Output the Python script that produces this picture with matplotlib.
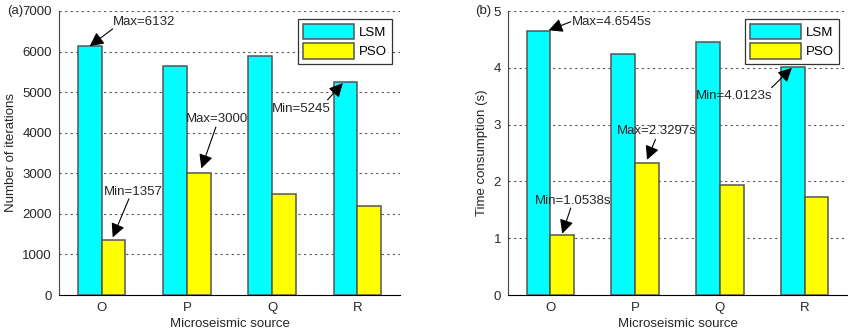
import numpy as np
import matplotlib.pyplot as plt

plt.rcParams['font.family'] = ['Liberation Sans', 'DejaVu Sans']
plt.rcParams['font.size'] = 9

sources = ["O", "P", "Q", "R"]

# (a) iterations
iter_lsm = [6132, 5650, 5900, 5245]
iter_pso = [1357, 3000, 2500, 2200]

# (b) time consumption
time_lsm = [4.6545, 4.25, 4.45, 4.0123]
time_pso = [1.0538, 2.3297, 1.93, 1.72]

# annotations: text, text pos, arrow tail, arrow head
notes_a = [
    ("Max=6132", (1.13, 6730), (1.13, 6560), (0.86, 6132)),
    ("Min=1357", (1.03, 2540), (1.32, 2370), (1.13, 1420)),
    ("Max=3000", (1.99, 4340), (2.34, 4140), (2.17, 3120)),
    ("Min=5245", (3.00, 4590), (3.65, 4810), (3.83, 5225)),
]
notes_b = [
    ("Max=4.6545s", (1.255, 4.81), (1.24, 4.81), (0.98, 4.66)),
    ("Min=1.0538s", (0.815, 1.65), (1.24, 1.53), (1.14, 1.08)),
    ("Max=2.3297s", (1.786, 2.89), (2.24, 2.74), (2.14, 2.38)),
    ("Min=4.0123s", (2.722, 3.51), (3.61, 3.65), (3.85, 4.0)),
]

fig = plt.figure(figsize=(8.54, 3.34), dpi=100)
W, H = 854, 334
ax1 = fig.add_axes([59 / W, 1 - 295 / H, 341 / W, 284 / H])
ax2 = fig.add_axes([508 / W, 1 - 295 / H, 339 / W, 284 / H])

x = np.arange(1, 5)
bw = 0.28
txtc = "#262626"


def draw(ax, lsm, pso, ymax, yticks, ylabel, notes, tag, tagx):
    ax.bar(x - bw / 2, lsm, bw, color="#00FFFF", edgecolor="#555555", linewidth=1.1, label="LSM", zorder=3)
    ax.bar(x + bw / 2, pso, bw, color="#FFFF00", edgecolor="#555555", linewidth=1.1, label="PSO", zorder=3)
    ax.set_xlim(0.5, 4.5)
    ax.set_ylim(0, ymax)
    ax.set_yticks(yticks)
    ax.set_xticks(x)
    ax.set_xticklabels(sources)
    ax.yaxis.grid(True, linestyle=(0, (2, 3)), color="#555555", linewidth=0.8, zorder=0)
    ax.set_axisbelow(True)
    for s in ["top", "right"]:
        ax.spines[s].set_visible(False)
    ax.spines["left"].set_color("#444444")
    ax.tick_params(axis="both", length=0, pad=5, colors=txtc, labelsize=9.5)
    ax.set_xlabel("Microseismic source", fontsize=9.5, color=txtc, labelpad=3)
    ax.set_ylabel(ylabel, fontsize=9.5, color=txtc)
    leg = ax.legend(loc="upper right", fontsize=9.5, frameon=True, fancybox=False,
                    edgecolor="k", handlelength=3.8, handleheight=1.4,
                    borderaxespad=0.6, labelspacing=0.3, handletextpad=0.4)
    leg.get_frame().set_linewidth(0.9)
    for text, tpos, tail, head in notes:
        ax.text(tpos[0], tpos[1], text, ha="left", va="center", fontsize=9.5, color=txtc, zorder=5)
        ax.annotate("", xy=head, xytext=tail,
                    arrowprops=dict(arrowstyle="-|>,head_length=0.6,head_width=0.3", color="k", lw=0.8,
                                    mutation_scale=14, shrinkA=0, shrinkB=0), zorder=5)
    ax.text(tagx, 1.0, tag, transform=ax.transAxes, ha="right", va="center", fontsize=9.5, color=txtc)


draw(ax1, iter_lsm, iter_pso, 7000, np.arange(0, 7001, 1000), "Number of iterations", notes_a, "(a)", -0.105)
draw(ax2, time_lsm, time_pso, 5, np.arange(0, 6, 1), "Time consumption (s)", notes_b, "(b)", -0.05)

fig.savefig("out.png", dpi=100)
